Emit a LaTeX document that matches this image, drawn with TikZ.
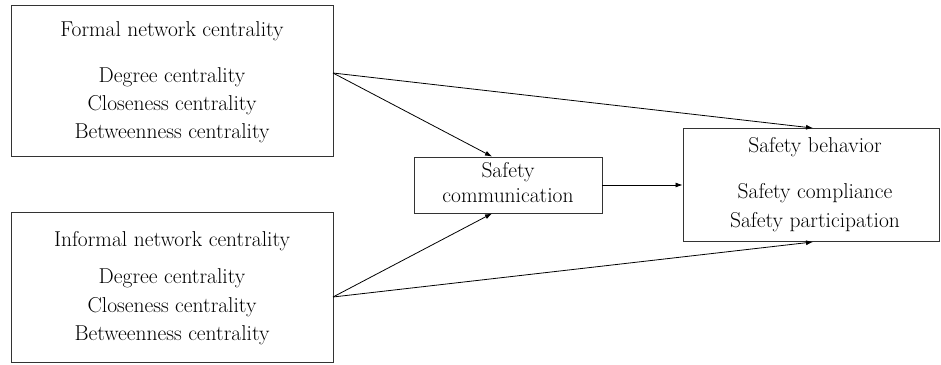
\documentclass[tikz,border=0pt]{standalone}
\usetikzlibrary{arrows.meta}
\begin{document}
\begin{tikzpicture}[x=1pt,y=-1pt,
  box/.style={draw=black!80,line width=0.9pt,inner sep=0pt},
  txt/.style={anchor=base,inner sep=0pt,font=\fontsize{21.5}{25}\selectfont,text=black},
  arr/.style={-{Latex[length=7pt,width=5pt]},line width=0.8pt,black}]
\useasboundingbox (0,0) rectangle (941,364);
% boxes
\node[box,minimum width=322pt,minimum height=151pt] (formal) at (172,81) {};
\node[box,minimum width=322pt,minimum height=150pt] (informal) at (172,287) {};
\node[box,minimum width=188pt,minimum height=56pt] (comm) at (508,185) {};
\node[box,minimum width=256pt,minimum height=113pt] (beh) at (811,185) {};
% texts
\node[txt] (f0) at (172,36) {Formal network centrality};
\node[txt] (f1) at (172,82) {Degree centrality};
\node[txt] (f2) at (172,110) {Closeness centrality};
\node[txt] (f3) at (172,138) {Betweenness centrality};
\node[txt] (i0) at (172,246) {Informal network centrality};
\node[txt] (i1) at (172,283) {Degree centrality};
\node[txt] (i2) at (172,312) {Closeness centrality};
\node[txt] (i3) at (172,340) {Betweenness centrality};
\node[txt] (c0) at (508,177) {Safety};
\node[txt] (c1) at (508,202) {communication};
\node[txt] (b0) at (815,152) {Safety behavior};
\node[txt] (b1) at (815,198) {Safety compliance};
\node[txt] (b2) at (815,227) {Safety participation};
% connectors
\coordinate (fo) at (333,73);
\coordinate (io) at (333,297);
\draw[arr] (fo) -- (comm.north -| 492,0);
\draw[arr] (fo) -- (beh.north -| 813,0);
\draw[arr] (io) -- (comm.south -| 492,0);
\draw[arr] (io) -- (beh.south -| 813,0);
\draw[arr] (comm.east) -- (beh.west);
\end{tikzpicture}
\end{document}
